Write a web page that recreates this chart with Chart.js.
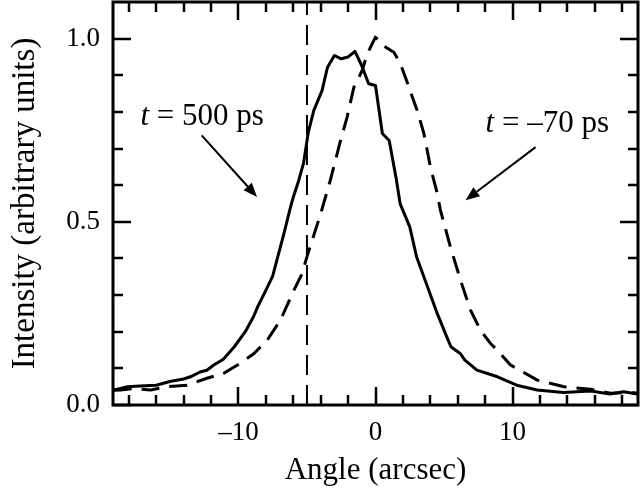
<!DOCTYPE html>
<html>
<head>
<meta charset="utf-8">
<script src="https://cdn.jsdelivr.net/npm/chart.js@4/dist/chart.umd.min.js"></script>
<style>
html,body{margin:0;padding:0;background:#fff;}
#wrap{width:640px;height:497px;}
</style>
</head>
<body>
<div id="wrap"><canvas id="c" width="640" height="497"></canvas></div>
<script>
// t = 500 ps (solid)
const solidAngle = [-19.1,-18.6,-18.1,-17.2,-16.0,-15.0,-14.0,-13.5,-12.8,-12.3,-11.8,-11.1,-10.3,-9.5,-8.9,-8.6,-8.0,-7.5,-7.2,-6.7,-6.2,-6.0,-5.6,-5.25,-4.9,-4.5,-3.9,-3.5,-3.0,-2.5,-2.0,-1.5,-1.0,-0.5,0,0.5,1.0,1.5,1.8,2.5,3.0,3.8,4.5,5.2,5.5,6.2,6.5,7.4,8.9,10.3,11.8,13.7,15.7,17.1,18.1,19.1];
const solidIntensity = [0.041,0.045,0.050,0.052,0.054,0.064,0.071,0.077,0.090,0.095,0.109,0.125,0.159,0.200,0.241,0.268,0.313,0.352,0.395,0.465,0.540,0.567,0.613,0.660,0.745,0.804,0.858,0.922,0.954,0.945,0.950,0.965,0.926,0.877,0.872,0.741,0.722,0.620,0.549,0.486,0.404,0.322,0.250,0.186,0.159,0.140,0.123,0.095,0.077,0.054,0.041,0.034,0.038,0.030,0.036,0.030];
// t = -70 ps (dashed)
const dashedAngle = [-19.1,-18.6,-17.6,-16.4,-15.2,-13.75,-12.3,-11.1,-9.85,-8.88,-7.9,-6.93,-5.96,-5.35,-5.0,-4.0,-3.3,-2.55,-2.07,-1.58,-0.97,-0.61,0,0.6,1.34,1.82,2.31,3.04,3.53,4.01,4.5,4.74,5.47,6.2,6.93,7.66,8.39,8.88,9.85,11.8,13.75,15.7,17.15,18.6,19.1];
const dashedIntensity = [0.040,0.041,0.045,0.041,0.050,0.054,0.073,0.086,0.114,0.140,0.177,0.232,0.313,0.359,0.405,0.522,0.613,0.722,0.786,0.867,0.913,0.958,1.004,0.980,0.963,0.931,0.881,0.804,0.741,0.649,0.578,0.531,0.431,0.341,0.259,0.204,0.168,0.150,0.109,0.068,0.050,0.043,0.032,0.034,0.033];
// vertical marker
const markerAngle = [-5, -5];
const markerIntensity = [0, 1.1];

const xTickValues = [-10, 0, 10];
const xTickLabels = ['\u201310', '0', '10'];
const yTickValues = [0, 0.5, 1.0];
const yTickLabels = ['0.0', '0.5', '1.0'];
const xMinorStep = 2;
const yMinorStep = 0.1;

const labelTexts = [['t', ' = 500 ps'], ['t', ' = \u201370 ps']];
const labelAnchors = [[-17.15, 0.763], [8.03, 0.744]];
const arrowFrom = [[-12.68, 0.736], [11.68, 0.704]];
const arrowTo = [[-8.64, 0.568], [6.57, 0.559]];

const SERIF = '"Liberation Serif", "Times New Roman", serif';

function pts(xs, ys){ return xs.map((x,i)=>({x:x, y:ys[i]})); }

const decor = {
  id: 'decor',
  afterDraw(chart){
    const ctx = chart.ctx, xs = chart.scales.x, ys = chart.scales.y, a = chart.chartArea;
    ctx.save();
    ctx.strokeStyle = '#000';
    ctx.fillStyle = '#000';
    ctx.lineWidth = 2.5;
    ctx.lineCap = 'butt';
    for (let v = -18; v <= 18.001; v += xMinorStep){
      const px = Math.round(xs.getPixelForValue(v));
      const major = Math.abs(v % 10) < 1e-6;
      const len = major ? 18 : 10;
      ctx.beginPath();
      ctx.moveTo(px, a.bottom); ctx.lineTo(px, a.bottom - len);
      ctx.moveTo(px, a.top); ctx.lineTo(px, a.top + len);
      ctx.stroke();
    }
    for (let i = 0; i <= 10; i++){
      const v = i * yMinorStep;
      const py = Math.round(ys.getPixelForValue(v));
      const major = i % 5 === 0;
      const len = major ? 18 : 10;
      ctx.beginPath();
      ctx.moveTo(a.left, py); ctx.lineTo(a.left + len, py);
      ctx.moveTo(a.right, py); ctx.lineTo(a.right - len, py);
      ctx.stroke();
    }
    ctx.lineWidth = 3;
    ctx.strokeRect(a.left, a.top, a.right - a.left, a.bottom - a.top);
    ctx.lineWidth = 2;
    for (let k = 0; k < arrowFrom.length; k++){
      const x1 = xs.getPixelForValue(arrowFrom[k][0]), y1 = ys.getPixelForValue(arrowFrom[k][1]);
      const x2 = xs.getPixelForValue(arrowTo[k][0]), y2 = ys.getPixelForValue(arrowTo[k][1]);
      const ang = Math.atan2(y2 - y1, x2 - x1);
      const hl = 14, hw = 5.5;
      const bx = x2 - hl * Math.cos(ang), by = y2 - hl * Math.sin(ang);
      ctx.beginPath(); ctx.moveTo(x1, y1); ctx.lineTo(bx, by); ctx.stroke();
      ctx.beginPath();
      ctx.moveTo(x2, y2);
      ctx.lineTo(bx + hw * Math.sin(ang), by - hw * Math.cos(ang));
      ctx.lineTo(bx - hw * Math.sin(ang), by + hw * Math.cos(ang));
      ctx.closePath(); ctx.fill();
    }
    ctx.textBaseline = 'alphabetic';
    ctx.textAlign = 'left';
    for (let k = 0; k < labelTexts.length; k++){
      let x = xs.getPixelForValue(labelAnchors[k][0]);
      const y = ys.getPixelForValue(labelAnchors[k][1]);
      ctx.font = 'italic 31px ' + SERIF;
      ctx.fillText(labelTexts[k][0], x, y);
      x += ctx.measureText(labelTexts[k][0]).width;
      ctx.font = '31px ' + SERIF;
      ctx.fillText(labelTexts[k][1], x, y);
    }
    ctx.restore();
  }
};

function noPad(s){ s.paddingLeft = 0; s.paddingRight = 0; s.paddingTop = 0; s.paddingBottom = 0; }

new Chart(document.getElementById('c'), {
  type: 'line',
  data: {
    datasets: [
      { label: 't = 500 ps', data: pts(solidAngle, solidIntensity), borderColor: '#000', borderWidth: 3, pointRadius: 0, tension: 0, borderJoinStyle: 'round', fill: false },
      { label: 't = -70 ps', data: pts(dashedAngle, dashedIntensity), borderColor: '#000', borderWidth: 3, borderDash: [18, 10], pointRadius: 0, tension: 0, borderJoinStyle: 'round', fill: false },
      { label: 'marker', data: pts(markerAngle, markerIntensity), borderColor: '#000', borderWidth: 2, borderDash: [20, 10], pointRadius: 0, fill: false }
    ]
  },
  options: {
    responsive: false,
    animation: false,
    events: [],
    layout: { padding: { top: 2, right: 2, left: 0, bottom: 0 } },
    plugins: { legend: { display: false }, tooltip: { enabled: false } },
    scales: {
      x: {
        type: 'linear', min: -19.15, max: 19.15,
        grid: { display: false, drawTicks: false },
        border: { display: false },
        afterBuildTicks: s => { s.ticks = xTickValues.map(v => ({ value: v })); },
        afterFit: s => { s.height = 92; noPad(s); },
        ticks: {
          color: '#000', font: { family: SERIF, size: 27 }, padding: 12, maxRotation: 0, autoSkip: false,
          callback: (v) => { const i = xTickValues.indexOf(v); return i >= 0 ? xTickLabels[i] : ''; }
        },
        title: { display: true, text: 'Angle (arcsec)', color: '#000', font: { family: SERIF, size: 31 }, padding: { top: 0, bottom: 8 } }
      },
      y: {
        type: 'linear', min: 0, max: 1.1,
        grid: { display: false, drawTicks: false },
        border: { display: false },
        afterBuildTicks: s => { s.ticks = yTickValues.map(v => ({ value: v })); },
        afterFit: s => { s.width = 113; noPad(s); },
        ticks: {
          color: '#000', font: { family: SERIF, size: 27 }, padding: 13,
          callback: (v) => { const i = yTickValues.indexOf(v); return i >= 0 ? yTickLabels[i] : ''; }
        },
        title: { display: true, text: 'Intensity (arbitrary units)', color: '#000', font: { family: SERIF, size: 33 }, padding: { top: 6, bottom: 0 } }
      }
    }
  },
  plugins: [decor]
});
</script>
</body>
</html>
